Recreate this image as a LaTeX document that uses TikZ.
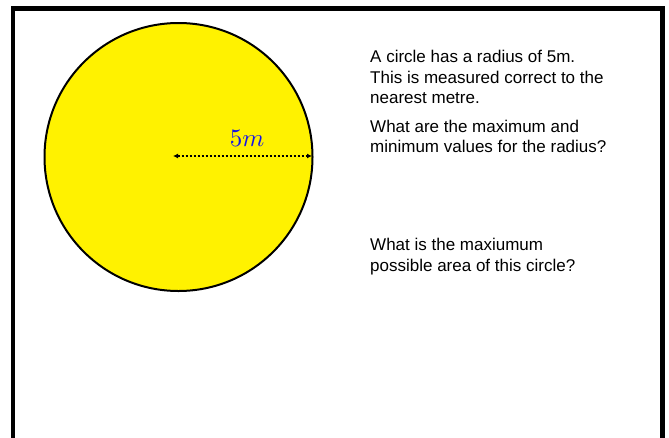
\documentclass[tikz,border=0pt]{standalone}
\usepackage{fontspec}
\setmainfont{Liberation Sans}
\usetikzlibrary{arrows.meta}
\definecolor{mathblue}{RGB}{20,20,230}
\tikzset{
  qtext/.style={anchor=north west, align=left, inner sep=0pt, font=\fontsize{17}{20.5}\selectfont, text=black},
}
\begin{document}
\begin{tikzpicture}[x=1pt,y=-1pt]
\useasboundingbox (0,0) rectangle (669,437);
\fill[white] (0,0) rectangle (669,437);
\draw[line width=4.7pt] (13,450) -- (13,8.7) -- (662.8,8.7) -- (662.8,450);
\node[circle, draw=black, line width=2pt, fill=yellow, minimum size=268pt, inner sep=0pt] (c) at (178.5,157) {};
\coordinate (ctr) at (173,156);
\coordinate (rim) at (312,156);
\draw[line width=2pt, dotted, {Latex[length=5pt,width=5pt]}-{Latex[length=5pt,width=5pt]}] (ctr) -- (rim);
\node[text=mathblue, scale=2.5, inner sep=0pt] (lab) at (247,138) {$5m$};
\node[qtext] (t1) at (370,50) {A circle has a radius of 5m.\\This is measured correct to the\\nearest metre.};
\node[qtext] (t2) at (370,119.5) {What are the maximum and\\minimum values for the radius?};
\node[qtext] (t3) at (370,238) {What is the maxiumum\\possible area of this circle?};
\end{tikzpicture}
\end{document}
